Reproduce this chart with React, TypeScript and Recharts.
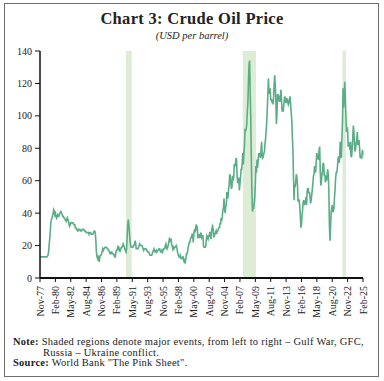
import React from "react";
import {
  LineChart,
  Line,
  XAxis,
  YAxis,
  ReferenceArea,
} from "recharts";

// monthly crude oil price, USD per barrel (Nov-77 .. Feb-25)
const price7779 = [
  13, 13,
  13, 13, 13, 13, 13, 13, 13, 13, 13, 13, 13, 13.5,
  14, 16, 20, 24, 29, 34, 36, 37, 38, 40, 42, 41,
];
const price8089 = [
  39, 40, 38, 37, 38, 39, 38, 38, 39, 40, 41, 41,
  40, 39, 38, 38, 37, 37, 36, 36, 35, 36, 37, 36,
  35, 33, 32, 33, 34, 34, 34, 34, 34, 33, 33, 33,
  31, 31, 30, 30, 29, 29, 30, 30, 30, 29, 29, 29,
  30, 30, 30, 30, 29, 29, 29, 28, 28, 28, 28, 28,
  27, 28, 28, 28, 27, 27, 27, 27, 28, 29, 29, 28,
  23, 16, 13, 12, 14, 12, 10, 13, 14, 14, 15, 16,
  18, 17, 18, 18, 19, 19, 19, 19, 18, 18, 17, 17,
  16, 15, 15, 16, 16, 15, 15, 15, 14, 13, 13, 15,
  17, 17, 18, 20, 18, 17, 18, 17, 18, 19, 19, 20,
];
const price9099 = [
  21, 20, 19, 18, 17, 16, 18, 26, 33, 36, 33, 28,
  23, 20, 19, 19, 19, 19, 20, 20, 21, 23, 21, 18,
  18, 18, 18, 19, 20, 21, 20, 20, 20, 20, 19, 18,
  17, 18, 18, 18, 18, 17, 17, 16, 16, 16, 15, 14,
  14, 14, 14, 15, 16, 17, 18, 17, 16, 16, 17, 16,
  17, 17, 17, 18, 18, 17, 16, 16, 17, 16, 17, 18,
  18, 18, 20, 21, 19, 18, 19, 20, 22, 24, 23, 24,
  24, 21, 20, 18, 19, 18, 19, 19, 19, 20, 19, 17,
  15, 14, 13, 13, 14, 12, 12, 12, 13, 13, 11, 10,
  11, 10, 12, 15, 15, 16, 19, 20, 22, 22, 24, 25,
];
const price0009 = [
  25, 27, 27, 22, 27, 30, 28, 30, 33, 31, 32, 25,
  25, 27, 25, 25, 28, 27, 25, 26, 26, 20, 19, 19,
  19, 20, 24, 26, 25, 24, 26, 26, 28, 28, 24, 28,
  31, 32, 30, 25, 26, 27, 28, 29, 27, 29, 29, 30,
  31, 31, 34, 33, 37, 35, 38, 42, 43, 49, 43, 40,
  44, 45, 53, 52, 49, 55, 57, 64, 63, 59, 55, 56,
  63, 60, 62, 70, 70, 69, 74, 73, 63, 59, 59, 62,
  54, 58, 62, 67, 67, 71, 77, 70, 77, 82, 92, 91,
  92, 95, 103, 109, 122, 132, 134, 113, 99, 72, 53, 41,
  43, 43, 46, 50, 58, 69, 65, 73, 68, 73, 77, 75,
];
const price1019 = [
  77, 74, 79, 84, 75, 74, 75, 77, 78, 83, 86, 91,
  96, 104, 114, 123, 114, 114, 117, 110, 110, 109, 110, 107,
  111, 119, 125, 119, 110, 95, 102, 113, 113, 112, 109, 109,
  112, 116, 109, 103, 103, 103, 107, 111, 112, 109, 108, 111,
  108, 109, 107, 108, 110, 112, 107, 102, 97, 87, 79, 62,
  48, 58, 56, 60, 64, 62, 57, 47, 48, 48, 44, 38,
  31, 33, 39, 42, 47, 48, 45, 46, 47, 50, 45, 54,
  55, 55, 52, 53, 50, 46, 48, 51, 55, 58, 63, 64,
  69, 65, 66, 72, 77, 74, 74, 73, 79, 81, 65, 57,
  60, 64, 66, 71, 70, 63, 64, 59, 63, 60, 63, 67,
];
const price2025 = [
  64, 55, 33, 23, 31, 40, 43, 45, 41, 41, 43, 50,
  55, 62, 65, 65, 68, 73, 75, 71, 74, 84, 81, 74,
  86, 97, 117, 105, 113, 121, 111, 100, 90, 93, 91, 81,
  83, 83, 79, 84, 75, 75, 80, 86, 94, 91, 83, 78,
  80, 83, 85, 90, 82, 83, 85, 80, 74, 75, 74, 74,
  79, 76,
];

const MONTHS = ["Jan", "Feb", "Mar", "Apr", "May", "Jun", "Jul", "Aug", "Sep", "Oct", "Nov", "Dec"];
const yTicks = [0, 20, 40, 60, 80, 100, 120, 140];

// shaded events: Gulf War, GFC, Russia - Ukraine conflict
const events = [
  { from: "Jun-90", to: "Apr-91" },
  { from: "Jul-07", to: "Jun-09" },
  { from: "Feb-22", to: "Aug-22" },
];

const prices = [...price7779, ...price8089, ...price9099, ...price0009, ...price1019, ...price2025];
const data = prices.map((v, i) => {
  const m = (10 + i) % 12;
  const y = 1977 + Math.floor((10 + i) / 12);
  return { label: `${MONTHS[m]}-${String(y % 100).padStart(2, "0")}`, value: v };
});

const FONT = "'Liberation Serif', 'DejaVu Serif', serif";

const XTick = (props: any) => {
  const { x, y, payload } = props;
  return (
    <text
      x={x}
      y={y}
      transform={`rotate(-90, ${x}, ${y})`}
      textAnchor="end"
      dominantBaseline="central"
      fontSize={10}
      fontFamily={FONT}
      fill="#222"
    >
      {payload.value}
    </text>
  );
};

export default function App() {
  return (
    <div style={{ position: "relative", width: 384, height: 381, background: "#fff", fontFamily: FONT }}>
      <style>{"body{margin:0}"}</style>
      <div
        style={{
          position: "absolute",
          left: 4,
          top: 3,
          width: 375,
          height: 374,
          border: "1.5px solid #6e6e6e",
          boxSizing: "border-box",
        }}
      />
      <div
        style={{
          position: "absolute",
          top: 11,
          width: 384,
          textAlign: "center",
          fontSize: 16.5,
          lineHeight: "16px",
          fontWeight: "bold",
          letterSpacing: 0.3,
          color: "#222",
        }}
      >
        Chart 3: Crude Oil Price
      </div>
      <div
        style={{
          position: "absolute",
          top: 31,
          width: 384,
          textAlign: "center",
          fontSize: 10.5,
          lineHeight: "10px",
          fontStyle: "italic",
          color: "#222",
        }}
      >
        (USD per barrel)
      </div>
      <div style={{ position: "absolute", left: 0, top: 0 }}>
        <LineChart
          width={384}
          height={381}
          data={data}
          margin={{ top: 51, right: 21, bottom: 58, left: 0 }}
        >
          {events.map((e, i) => (
            <ReferenceArea
              key={`ev-${i}`}
              x1={e.from}
              x2={e.to}
              y1={0}
              y2={140}
              fill="#dcecd5"
              fillOpacity={1}
              stroke="none"
              ifOverflow="visible"
            />
          ))}
          <XAxis
            dataKey="label"
            interval={26}
            height={45}
            tickSize={4}
            tickMargin={4}
            tick={<XTick />}
            axisLine={{ stroke: "#111", strokeWidth: 2 }}
            tickLine={{ stroke: "#111" }}
          />
          <YAxis
            width={40}
            domain={[0, 140]}
            ticks={yTicks}
            tickSize={5}
            tickMargin={3}
            tick={{ fontSize: 10, fill: "#222", fontFamily: FONT }}
            axisLine={{ stroke: "#111", strokeWidth: 1.5 }}
            tickLine={{ stroke: "#111" }}
          />
          <Line
            type="linear"
            dataKey="value"
            stroke="#5bad87"
            strokeWidth={1.6}
            dot={false}
            isAnimationActive={false}
          />
        </LineChart>
      </div>
      <div
        style={{
          position: "absolute",
          left: 13,
          top: 337,
          width: 370,
          fontSize: 10.5,
          lineHeight: "10.5px",
          letterSpacing: 0.25,
          color: "#222",
          whiteSpace: "nowrap",
        }}
      >
        <div>
          <b>Note:</b> Shaded regions denote major events, from left to right – Gulf War, GFC,
        </div>
        <div style={{ paddingLeft: 30 }}>Russia – Ukraine conflict.</div>
        <div>
          <b>Source:</b> World Bank "The Pink Sheet".
        </div>
      </div>
    </div>
  );
}
